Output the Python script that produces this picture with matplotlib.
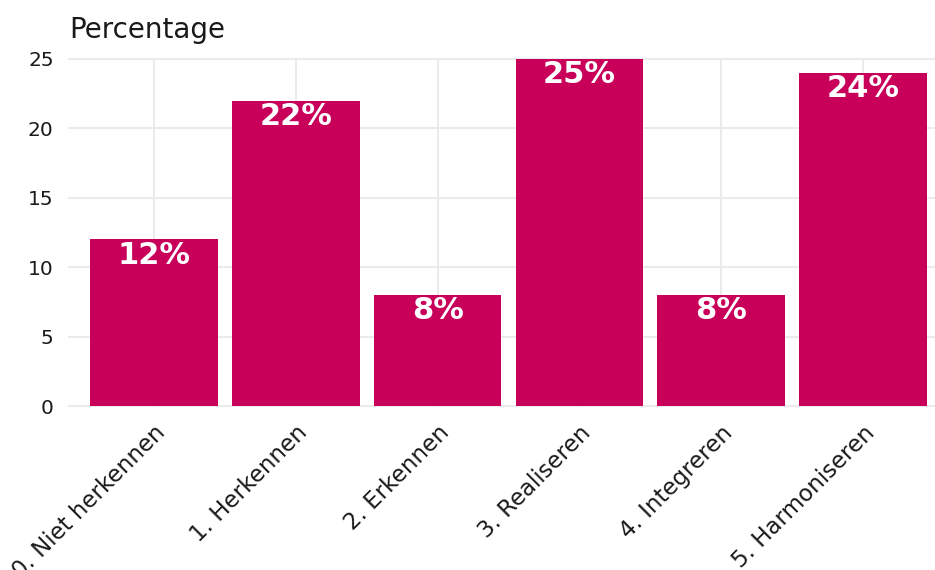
import matplotlib
matplotlib.use("Agg")
import matplotlib.pyplot as plt

# Data
categories = ["0. Niet herkennen", "1. Herkennen", "2. Erkennen",
              "3. Realiseren", "4. Integreren", "5. Harmoniseren"]
percentages = [12, 22, 8, 25, 8, 24]
y_ticks = [0, 5, 10, 15, 20, 25]

BAR_COLOUR = "#C8005A"
GRID_COLOUR = "#EBEBEB"
TEXT_COLOUR = "#1A1A1A"

W, H = 935, 570
fig = plt.figure(figsize=(W / 100, H / 100), dpi=100)

# axes placed in pixel terms of the reference
left, right, top, bottom = 69, 948, 59, 406
ax = fig.add_axes([left / W, 1 - bottom / H, (right - left) / W, (bottom - top) / H])

x = list(range(len(categories)))
ax.bar(x, percentages, width=0.9, color=BAR_COLOUR, zorder=2)

for xi, val in zip(x, percentages):
    ax.annotate(f"{val}%", xy=(xi, val), xytext=(0, -1), textcoords="offset points",
                ha="center", va="top", color="white", fontsize=22,
                fontweight="bold", zorder=3)

ax.set_xlim(-0.6, len(categories) - 0.4)
ax.set_ylim(0, 25)
ax.set_yticks(y_ticks)
ax.set_xticks(x)
ax.set_xticklabels(categories, rotation=45, ha="right", rotation_mode="anchor")

ax.grid(True, color=GRID_COLOUR, linewidth=1.5, zorder=0)
ax.set_axisbelow(True)
for spine in ax.spines.values():
    spine.set_visible(False)
ax.tick_params(length=0, labelsize=14.5, colors=TEXT_COLOUR)
ax.tick_params(axis="y", pad=11)
ax.tick_params(axis="x", pad=11, labelsize=16.5)
for gl in ax.get_ygridlines() + ax.get_xgridlines():
    gl.set_clip_on(False)

fig.text(left / W, 1 - 38 / H, "Percentage", ha="left", va="baseline",
         fontsize=20, color=TEXT_COLOUR)

fig.savefig("out.png", dpi=100)
